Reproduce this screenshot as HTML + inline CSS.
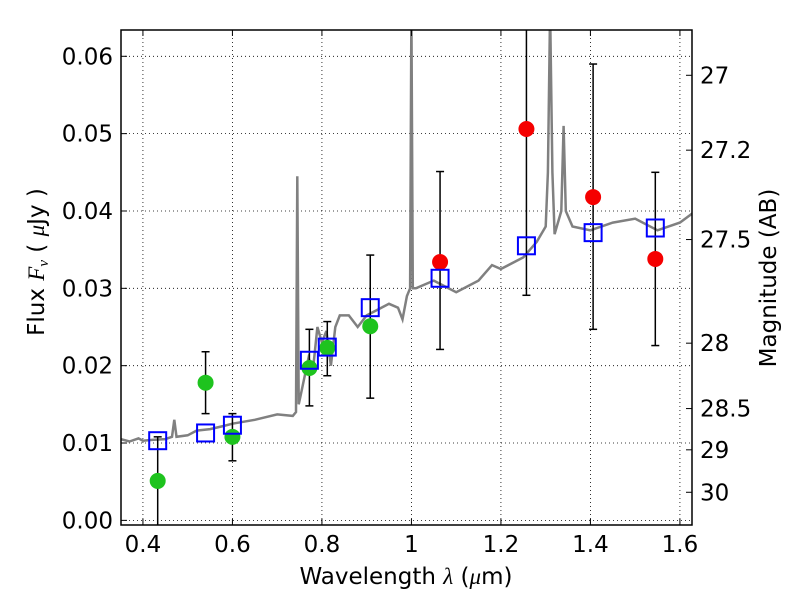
<!DOCTYPE html>
<html><head><meta charset="utf-8"><style>
body{margin:0;background:#fff}
svg text{font-family:"DejaVu Sans","Liberation Sans",sans-serif;fill:#000}
</style></head><body>
<svg id="chart" width="800" height="600">
<g id="grid"></g>
<g id="spec"></g>
<g id="pts"></g>
<g id="axes"></g>
</svg>
<script>
const specWave=[0.33,0.35,0.37,0.39,0.4,0.42,0.45,0.465,0.47,0.475,0.5,0.52,0.55,0.58,0.6,0.65,0.7,0.735,0.742,0.745,0.748,0.752,0.77,0.78,0.79,0.8,0.81,0.82,0.83,0.84,0.86,0.88,0.9,0.95,0.97,0.98,0.99,0.997,1.0,1.003,1.01,1.05,1.1,1.15,1.18,1.2,1.25,1.28,1.3,1.305,1.31,1.315,1.32,1.335,1.34,1.345,1.36,1.4,1.45,1.5,1.55,1.6,1.635];
const specFlux=[0.0105,0.0105,0.0102,0.0106,0.0103,0.0104,0.0105,0.0108,0.013,0.0108,0.011,0.0116,0.0118,0.0122,0.0125,0.013,0.0137,0.0135,0.014,0.0445,0.015,0.016,0.021,0.0195,0.025,0.023,0.0245,0.020,0.025,0.0265,0.0265,0.025,0.0265,0.028,0.0275,0.026,0.029,0.030,0.066,0.030,0.030,0.031,0.0295,0.031,0.033,0.0325,0.034,0.036,0.038,0.045,0.066,0.045,0.037,0.040,0.051,0.040,0.038,0.0375,0.0385,0.039,0.0375,0.0385,0.040];
const greenWave=[0.433,0.54,0.6,0.772,0.812,0.908];
const greenFlux=[0.0051,0.0178,0.0108,0.0197,0.0223,0.0251];
const greenLo=[-0.001,0.0138,0.0077,0.0148,0.0187,0.0158];
const greenHi=[0.0108,0.0218,0.0138,0.0247,0.0257,0.0343];
const redWave=[1.064,1.257,1.406,1.545];
const redFlux=[0.0334,0.0506,0.0418,0.0338];
const redLo=[0.0221,0.0291,0.0247,0.0226];
const redHi=[0.0451,0.07,0.059,0.045];
const modelWave=[0.433,0.54,0.6,0.772,0.812,0.908,1.064,1.257,1.406,1.545];
const modelFlux=[0.0103,0.0113,0.0123,0.0207,0.0224,0.0275,0.0313,0.0355,0.0372,0.0378];
const xTicks=[0.4,0.6,0.8,1.0,1.2,1.4,1.6];
const xTickLabels=["0.4","0.6","0.8","1","1.2","1.4","1.6"];
const yTicks=[0,0.01,0.02,0.03,0.04,0.05,0.06];
const yTickLabels=["0.00","0.01","0.02","0.03","0.04","0.05","0.06"];
const magTicks=[27,27.2,27.5,28,28.5,29,30];
const magTickLabels=["27","27.2","27.5","28","28.5","29","30"];

const L=121,R=692,T=30,B=525;
const x0=0.351,x1=1.627,y0=-0.0006,y1=0.0634;
const X=v=>L+(v-x0)/(x1-x0)*(R-L);
const Y=v=>B-(v-y0)/(y1-y0)*(B-T);
const NS="http://www.w3.org/2000/svg";
function mk(parent,tag,attrs){const e=document.createElementNS(NS,tag);for(const k in attrs)e.setAttribute(k,attrs[k]);document.getElementById(parent).appendChild(e);return e;}

xTicks.forEach((t,i)=>{const e=mk('grid','line',{x1:X(t),x2:X(t),y1:T,y2:B,stroke:'#000','stroke-dasharray':'1,3','stroke-width':0.8});

});
yTicks.forEach((t,i)=>{const e=mk('grid','line',{x1:L,x2:R,y1:Y(t),y2:Y(t),stroke:'#000','stroke-dasharray':'1,3','stroke-width':0.8});

});

const d=specWave.map((w,i)=>(i?'L':'M')+X(w).toFixed(1)+','+Y(Math.min(specFlux[i],0.07)).toFixed(1)).join('');
const cp=mk('spec','clipPath',{id:'clip'});
const cr=document.createElementNS(NS,'rect');cr.setAttribute('x',L);cr.setAttribute('y',T);cr.setAttribute('width',R-L);cr.setAttribute('height',B-T);cp.appendChild(cr);
const sp=mk('spec','path',{d:d,fill:'none',stroke:'#808080','stroke-width':2.5,'clip-path':'url(#clip)'});



function pts(w,f,lo,hi,name){
 w.forEach((v,i)=>{
  const x=X(v);
  const top=Y(Math.min(hi[i],y1+0.001)),bot=Y(Math.max(lo[i],y0-0.001));
  const eb=mk('pts','line',{x1:x,x2:x,y1:top,y2:bot,stroke:'#000','stroke-width':1.5,'clip-path':'url(#clip)'});
  
  
  [hi[i],lo[i]].forEach(c=>{if(c<=y1&&c>=y0){const cap=mk('pts','line',{x1:x-4,x2:x+4,y1:Y(c),y2:Y(c),stroke:'#000','stroke-width':1.5});
  
  }});
 });
}
pts(greenWave,greenFlux,greenLo,greenHi,'green-point');
pts(redWave,redFlux,redLo,redHi,'red-point');
greenWave.forEach((v,i)=>{const c=mk('pts','circle',{cx:X(v),cy:Y(greenFlux[i]),r:8,fill:'#1ec31e'});

});
redWave.forEach((v,i)=>{const c=mk('pts','circle',{cx:X(v),cy:Y(redFlux[i]),r:8,fill:'#f50000'});

});
modelWave.forEach((v,i)=>{const s=mk('pts','rect',{x:X(v)-8.5,y:Y(modelFlux[i])-8.5,width:17,height:17,fill:'none',stroke:'#0000ff','stroke-width':2});

});

const fr=mk('axes','rect',{x:L,y:T,width:R-L,height:B-T,fill:'none',stroke:'#000','stroke-width':1.5});


xTicks.forEach((t,i)=>{
 mk('axes','line',{x1:X(t),x2:X(t),y1:B,y2:B-6,stroke:'#000'});
 mk('axes','line',{x1:X(t),x2:X(t),y1:T,y2:T+6,stroke:'#000'});
 const tx=mk('axes','text',{x:X(t),y:B+27,'text-anchor':'middle','font-size':23});tx.textContent=xTickLabels[i];
 
 
});
yTicks.forEach((t,i)=>{
 mk('axes','line',{x1:L,x2:L+6,y1:Y(t),y2:Y(t),stroke:'#000'});
 const tx=mk('axes','text',{x:L-8,y:Y(t)+8,'text-anchor':'end','font-size':23});tx.textContent=yTickLabels[i];
 
 
});
magTicks.forEach((m,i)=>{
 const f=Math.pow(10,(23.9-m)/2.5);const y=Y(f);
 mk('axes','line',{x1:R,x2:R-6,y1:y,y2:y,stroke:'#000'});
 const tx=mk('axes','text',{x:R+8,y:y+8,'font-size':23});tx.textContent=magTickLabels[i];
 
 
});
const xl=mk('axes','text',{x:406,y:584,'text-anchor':'middle','font-size':23});
xl.innerHTML='Wavelength  <tspan font-style="italic" font-family="Liberation Serif">λ</tspan> (<tspan font-style="italic" font-family="Liberation Serif">μ</tspan>m)';


const yl=mk('axes','text',{x:0,y:0,'text-anchor':'middle','font-size':23,transform:'translate(44,262) rotate(-90)'});
yl.innerHTML='Flux  <tspan font-style="italic" font-family="Liberation Serif">F<tspan font-size="15" dy="4">ν</tspan></tspan><tspan dy="-4">  (  </tspan><tspan font-style="italic" font-family="Liberation Serif">μ</tspan>Jy )';


const rl=mk('axes','text',{x:0,y:0,'text-anchor':'middle','font-size':23,transform:'translate(776,278) rotate(-90)'});
rl.textContent='Magnitude (AB)';


</script>
</body></html>
